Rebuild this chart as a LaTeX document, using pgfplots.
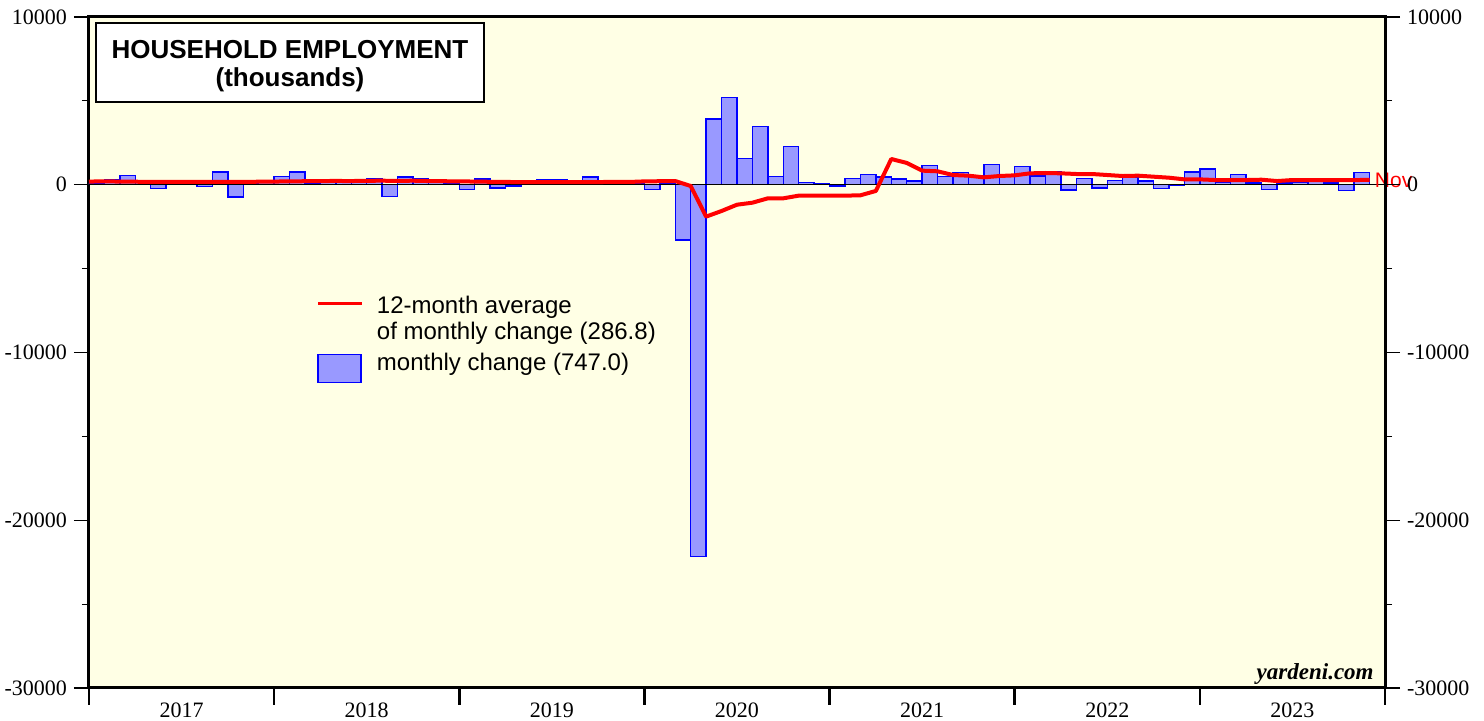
\documentclass[border=0pt]{standalone}
\usepackage{fontspec}
\setmainfont{Liberation Serif}
\newfontfamily\arial{Liberation Sans}
\usepackage{pgfplots}
\pgfplotsset{compat=1.18}
\definecolor{bgyellow}{RGB}{255,255,229}
\definecolor{barfill}{RGB}{153,153,255}
\pgfplotsset{
  commonax/.style={
    scale only axis, width=648pt, height=335.5pt,
    xmin=0, xmax=84, ymin=-30000, ymax=10000,
    ytick={-30000,-20000,-10000,0,10000},
    yticklabels={-30000,-20000,-10000,0,10000},
    minor ytick={-25000,-15000,-5000,5000},
    tick align=outside,
    major tick length=7.5pt, minor tick length=3.5pt,
    tick style={black, line width=0.6pt},
    ticklabel style={font=\fontsize{11}{12}\selectfont},
    /pgf/number format/assume math mode=true,
    axis line style={line width=1.5pt},
  }
}
\begin{document}
\begin{tikzpicture}
\begin{axis}[
  commonax,
  clip mode=individual,
  axis background/.style={fill=bgyellow},
  xtick={6,18,30,42,54,66,78},
  xticklabels={2017,2018,2019,2020,2021,2022,2023},
  major x tick style={draw=none},
  extra x ticks={0,12,24,36,48,60,72,84},
  extra x tick labels={},
  extra x tick style={major tick length=8.5pt, major x tick style={draw=black, line width=1.3pt}},
  xtick pos=bottom, ytick pos=left,
  xticklabel style={yshift=3.5pt},
  legend style={at={(rel axis cs:0.1705,0.595)}, anchor=north west, draw=none, fill=none,
    font=\arial\fontsize{12}{13}\selectfont, row sep=0pt, column sep=5pt,
    nodes={inner sep=1.5pt}},
  legend cell align=left,
]
\addlegendimage{legend image code/.code={\draw[red, line width=1.8pt] (0pt,1.5pt) -- (22pt,1.5pt);}}
\addlegendentry{12-month average}
\addlegendimage{empty legend}
\addlegendentry{of monthly change (286.8)}
\addlegendimage{legend image code/.code={\draw[fill=barfill, draw=blue, line width=0.7pt] (0pt,-10.5pt) rectangle (21.5pt,3.5pt);}}
\addlegendentry{\rule{0pt}{11pt}monthly change (747.0)}

\addplot[ybar interval, fill=barfill, draw=blue, line width=0.7pt, forget plot] coordinates {
(0,100) (1,300) (2,550) (3,150) (4,-230) (5,250) (6,250) (7,-100) (8,760) (9,-720) (10,100) (11,150)
(12,480) (13,750) (14,100) (15,150) (16,290) (17,250) (18,340) (19,-700) (20,470) (21,340) (22,200) (23,100)
(24,-300) (25,340) (26,-200) (27,-80) (28,100) (29,290) (30,330) (31,250) (32,470) (33,100) (34,100) (35,100)
(36,-300) (37,50) (38,-3300) (39,-22150) (40,3920) (41,5200) (42,1550) (43,3460) (44,480) (45,2270) (46,140) (47,60)
(48,-80) (49,380) (50,600) (51,460) (52,340) (53,220) (54,1160) (55,480) (56,720) (57,560) (58,1220) (59,500)
(60,1100) (61,520) (62,800) (63,-310) (64,360) (65,-200) (66,260) (67,440) (68,220) (69,-210) (70,-30) (71,760)
(72,940) (73,150) (74,620) (75,100) (76,-280) (77,100) (78,150) (79,200) (80,100) (81,-330) (82,747) (83,0)
};
\addplot[black, line width=0.5pt, forget plot] coordinates {(0,0) (84,0)};
\addplot[red, line width=2pt, line join=round, forget plot] coordinates {
(0,190) (1,200) (2,190) (3,180) (4,170) (5,175) (6,170) (7,165) (8,175) (9,165) (10,170) (11,180)
(12,190) (13,200) (14,210) (15,220) (16,225) (17,220) (18,235) (19,240) (20,230) (21,240) (22,220) (23,210)
(24,200) (25,190) (26,175) (27,165) (28,160) (29,150) (30,155) (31,160) (32,150) (33,160) (34,170) (35,165)
(36,200) (37,210) (38,220) (39,-75) (40,-1900) (41,-1565) (42,-1190) (43,-1070) (44,-810) (45,-810) (46,-650) (47,-650)
(48,-650) (49,-650) (50,-630) (51,-370) (52,1535) (53,1300) (54,840) (55,800) (56,580) (57,540) (58,440) (59,520)
(60,560) (61,680) (62,700) (63,680) (64,640) (65,640) (66,580) (67,520) (68,540) (69,480) (70,420) (71,320)
(72,320) (73,280) (74,280) (75,280) (76,300) (77,220) (78,280) (79,280) (80,280) (81,280) (82,280) (83,287)
};
\node[anchor=west, text=red, font=\arial\fontsize{10.5}{12}\selectfont, inner sep=1pt, xshift=1.5pt] at (axis cs:83,287) {Nov};
\draw[fill=white, line width=0.8pt] ([shift={(3.5pt,-3pt)}]rel axis cs:0,1) rectangle ([shift={(197.5pt,-42.5pt)}]rel axis cs:0,1);
\node[align=center, font=\arial\bfseries\fontsize{13}{14}\selectfont, inner sep=0pt] at ([shift={(100.5pt,-24.5pt)}]rel axis cs:0,1) {HOUSEHOLD EMPLOYMENT\\(thousands)};
\node[anchor=base east, font=\bfseries\itshape\fontsize{11.5}{13}\selectfont, inner sep=0pt] at ([shift={(-5.5pt,4pt)}]rel axis cs:1,0) {yardeni.com};
\coordinate (SW) at (rel axis cs:0,0);
\end{axis}
\begin{axis}[
  commonax,
  axis x line=none, axis y line*=right,
  ytick pos=right, yticklabel pos=right,
  yticklabel style={anchor=west},
]
\addplot[draw=none] coordinates {(0,0)};
\end{axis}
\pgfresetboundingbox
\useasboundingbox ([shift={(-44.5pt,-16.5pt)}]SW) rectangle ([shift={(697.5pt,344pt)}]SW);
\end{tikzpicture}
\end{document}
